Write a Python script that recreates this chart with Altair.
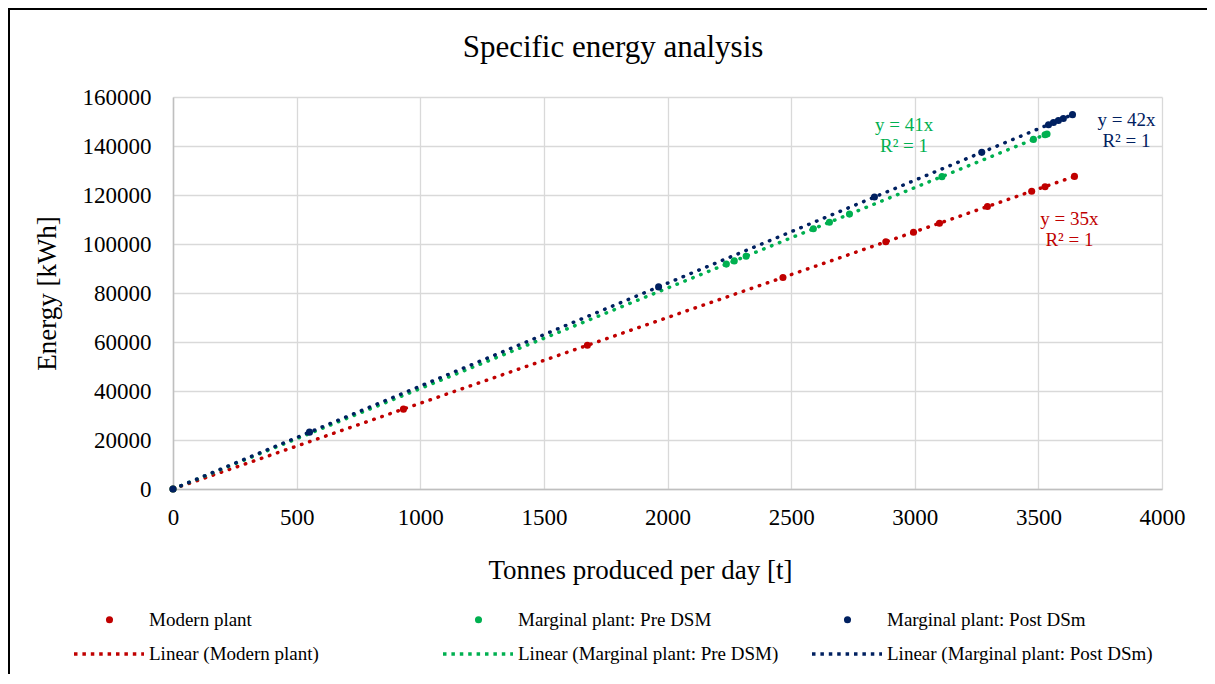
import altair as alt
import pandas as pd
import numpy as np

# ---- data ----
modern_x = [0, 932, 1676, 2467, 2883, 2995, 3100, 3294, 3473, 3527, 3646]
modern_y = [0, 32600, 58700, 86300, 100900, 104800, 108500, 115300, 121500, 123400, 127600]

pre_x = [0, 2238, 2270, 2318, 2590, 2655, 2736, 3110, 3480, 3527, 3535]
pre_y = [0, 91800, 93100, 95000, 106200, 108900, 112200, 127500, 142700, 144600, 144900]

post_x = [0, 552, 1964, 2837, 3271, 3541, 3561, 3581, 3601, 3638]
post_y = [0, 23200, 82500, 119200, 137400, 148700, 149600, 150400, 151200, 152800]

series_names = ["Modern plant", "Marginal plant: Pre DSM", "Marginal plant: Post DSm"]
trend_names = ["Linear (Modern plant)", "Linear (Marginal plant: Pre DSM)",
               "Linear (Marginal plant: Post DSm)"]
colors = ["#C00000", "#00B050", "#002060"]

x_ticks = [0, 500, 1000, 1500, 2000, 2500, 3000, 3500, 4000]
y_ticks = [0, 20000, 40000, 60000, 80000, 100000, 120000, 140000, 160000]

chart_title = "Specific energy analysis"

# label placement offsets (style), per series: dx, dy
label_offsets = [(-5, 49), (-143, -3), (54, 11)]

FONT = "Liberation Serif"

pts, trend, ann = [], [], []
for name, tname, xs, ys in zip(series_names, trend_names,
                                [modern_x, pre_x, post_x], [modern_y, pre_y, post_y]):
    x = np.array(xs, float)
    y = np.array(ys, float)
    slope = float((x * y).sum() / (x * x).sum())
    pred = slope * x
    r2 = 1 - ((y - pred) ** 2).sum() / ((y - y.mean()) ** 2).sum()
    for a, b in zip(xs, ys):
        pts.append({"x": a, "y": b, "series": name})
    trend.append({"x": 0.0, "y": 0.0, "trend": tname})
    trend.append({"x": float(x.max()), "y": slope * float(x.max()), "trend": tname})
    i = int(np.argmax(x))
    ann.append({"x": xs[i], "y": ys[i], "series": name,
                "label": f"y = {round(slope)}x\nR² = {round(r2)}"})

pts_df = pd.DataFrame(pts)
trend_df = pd.DataFrame(trend)
ann_df = pd.DataFrame(ann)
title_df = pd.DataFrame({"t": [chart_title]})

xscale = alt.Scale(domain=[0, 4000], nice=False, zero=True)
yscale = alt.Scale(domain=[0, 160000], nice=False, zero=True)

xaxis = alt.Axis(values=x_ticks, format="d", title="Tonnes produced per day [t]",
                 labelPadding=28, labelBaseline="middle", labelFlush=False,
                 titleX=467, titleY=89, titleBaseline="alphabetic", titleAlign="center")
yaxis = alt.Axis(values=y_ticks, format="d", title="Energy [kWh]",
                 labelPadding=22, labelFlush=False,
                 titleX=-118, titleY=196, titleAngle=-90, titleBaseline="alphabetic",
                 titleAlign="center")

X = alt.X("x:Q", scale=xscale, axis=xaxis)
Y = alt.Y("y:Q", scale=yscale, axis=yaxis)

lines = alt.Chart(trend_df).mark_line(
    strokeWidth=3.5, strokeDash=[0.5, 8], strokeCap="round"
).encode(
    x=X, y=Y,
    color=alt.Color("trend:N", scale=alt.Scale(domain=trend_names, range=colors),
                    legend=alt.Legend(title=None, orient="none", legendX=-101, legendY=520,
                                      direction="horizontal", columns=3, gridAlign="all",
                                      columnPadding=21, symbolType="stroke", symbolSize=4900,
                                      symbolStrokeWidth=3.5, symbolDash=[3.5, 4.9],
                                      labelOffset=3, labelFont=FONT, labelFontSize=19,
                                      labelColor="black", padding=0, labelLimit=500)),
    detail="trend:N",
)

points = alt.Chart(pts_df).mark_circle(size=50, opacity=1).encode(
    x=X, y=Y,
    color=alt.Color("series:N", scale=alt.Scale(domain=series_names, range=colors),
                    legend=alt.Legend(title=None, orient="none", legendX=-101, legendY=513,
                                      direction="horizontal", columns=3, gridAlign="all",
                                      columnPadding=93, symbolType="circle", symbolSize=50,
                                      symbolOffset=28, labelOffset=30, labelFont=FONT,
                                      labelFontSize=19, labelColor="black", padding=0,
                                      labelLimit=500)),
)

ann_layers = []
for (dx, dy), name, col in zip(label_offsets, series_names, colors):
    ann_layers.append(
        alt.Chart(ann_df).transform_filter(alt.datum.series == name).mark_text(
            font=FONT, fontSize=19, color=col, align="center", baseline="alphabetic",
            lineBreak="\n", lineHeight=21, dx=dx, dy=dy
        ).encode(x=X, y=Y, text="label:N")
    )

title_text = alt.Chart(title_df).mark_text(
    font=FONT, fontSize=31, color="black", align="center", baseline="alphabetic"
).encode(x=alt.value(440), y=alt.value(-40), text="t:N")

frame = alt.Chart(pts_df).mark_rect(
    fillOpacity=0, stroke="black", strokeWidth=2
).encode(x=alt.value(-164), x2=alt.value(1400), y=alt.value(-88), y2=alt.value(900))

chart = alt.layer(lines, points, *ann_layers, title_text, frame).resolve_scale(
    color="independent"
).properties(
    width=989, height=392,
    background="white",
    padding={"left": 165, "top": 89, "right": 45, "bottom": 185},
    autosize=alt.AutoSizeParams(type="none"),
).configure_axis(
    gridColor="#d9d9d9", gridWidth=1.3, domainColor="#bfbfbf", domainWidth=1.5,
    ticks=False, labelFont=FONT, labelFontSize=23, labelColor="black",
    titleFont=FONT, titleFontSize=27, titleFontWeight="normal", titleColor="black",
).configure_view(stroke=None)

chart.save("out.html", embed_options={"renderer": "svg", "actions": False})
